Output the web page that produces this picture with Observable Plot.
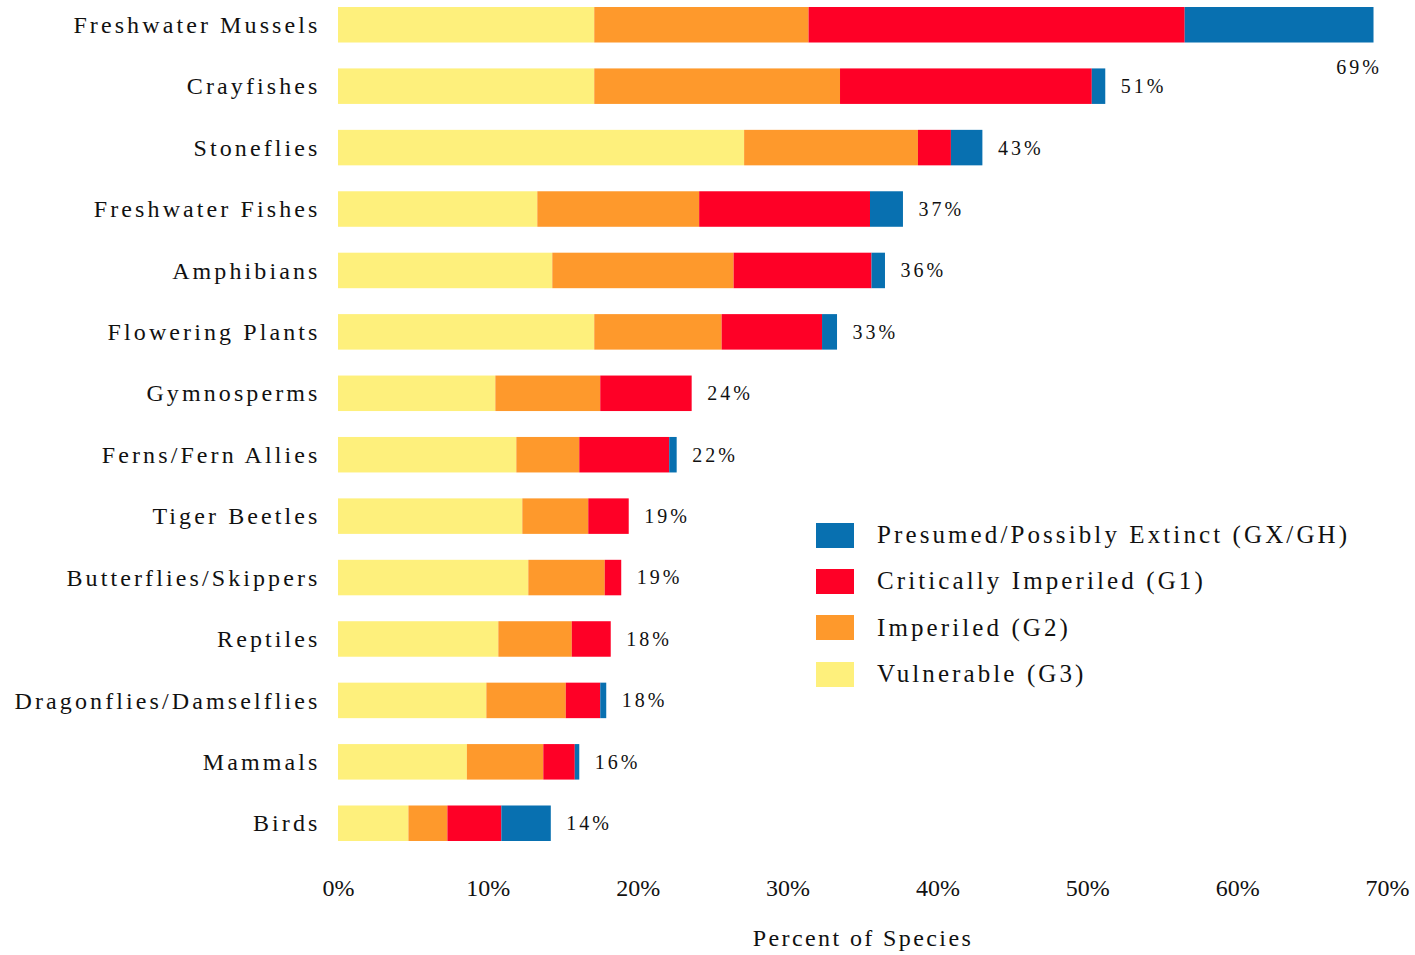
<!DOCTYPE html>
<html>
<head>
<meta charset="utf-8">
<script src="https://cdn.jsdelivr.net/npm/d3@7"></script>
<script src="https://cdn.jsdelivr.net/npm/@observablehq/plot@0.6"></script>
<style>
  html, body { margin: 0; padding: 0; background: #fff; }
  #wrap { position: relative; width: 1415px; height: 955px; font-family: "Liberation Serif", serif; color: #111; }
  g[aria-label="y-axis tick label"] text { letter-spacing: 3.1px; }
  g[aria-label="x-axis label"] text { letter-spacing: 2.4px; }
  g[aria-label="text"] text { letter-spacing: 3px; }
  #legend { position: absolute; left: 816px; top: 512px; font-size: 25px; letter-spacing: 3.1px; }
  #legend .row { display: flex; align-items: center; height: 46.3px; }
  #legend .sw { width: 38px; height: 25px; margin-right: 23px; flex: none; }
</style>
</head>
<body>
<div id="wrap"></div>
<script>
const groups = ["Freshwater Mussels","Crayfishes","Stoneflies","Freshwater Fishes","Amphibians","Flowering Plants","Gymnosperms","Ferns/Fern Allies","Tiger Beetles","Butterflies/Skippers","Reptiles","Dragonflies/Damselflies","Mammals","Birds"];
const statuses = ["Vulnerable (G3)","Imperiled (G2)","Critically Imperiled (G1)","Presumed/Possibly Extinct (GX/GH)"];
const colors = ["#FEF07C","#FE992C","#FE0026","#0870B0"];
const vulnerable = [17.1,17.1,27.1,13.3,14.3,17.1,10.5,11.9,12.3,12.7,10.7,9.9,8.6,4.7];
const imperiled  = [14.3,16.4,11.6,10.8,12.1,8.5,7.0,4.2,4.4,5.1,4.9,5.3,5.1,2.6];
const critical   = [25.1,16.8,2.2,11.4,9.2,6.7,6.1,6.0,2.7,1.1,2.6,2.3,2.1,3.6];
const extinct    = [12.6,0.9,2.1,2.2,0.9,1.0,0,0.5,0,0,0,0.4,0.3,3.3];
const totalLabels = [69,51,43,37,36,33,24,22,19,19,18,18,16,14];
const xTicks = [0,10,20,30,40,50,60,70];

const series = [vulnerable, imperiled, critical, extinct];
const data = [];
groups.forEach((g, i) => statuses.forEach((s, k) => data.push({group: g, status: s, value: series[k][i]})));
const totals = groups.map((g, i) => ({group: g, total: series.reduce((a, s) => a + s[i], 0), label: totalLabels[i] + "%"}));
const right = totals.filter(d => d.total < 60);
const below = totals.filter(d => d.total >= 60);

const chart = Plot.plot({
  width: 1415,
  height: 955,
  marginLeft: 338,
  marginRight: 28,
  marginTop: 0,
  marginBottom: 107,
  style: {fontFamily: "'Liberation Serif', serif", fontSize: "24px", color: "#111", background: "#fff"},
  x: {domain: [0, 70], ticks: xTicks, label: "Percent of Species", labelArrow: "none"},
  y: {domain: groups, paddingInner: 0.422, paddingOuter: 0.114, round: false},
  color: {domain: statuses, range: colors},
  marks: [
    Plot.barX(data, {x: "value", y: "group", fill: "status", order: statuses, inset: 0}),
    Plot.text(right, {x: "total", y: "group", text: "label", textAnchor: "start", dx: 15, fontSize: 20, fill: "#111"}),
    Plot.text(below, {x: "total", y: "group", text: "label", textAnchor: "end", dx: 8, dy: 42, fontSize: 20, fill: "#111"}),
    Plot.axisY({tickSize: 0, tickPadding: 18, label: null, fontSize: 24}),
    Plot.axisX({ticks: xTicks, tickSize: 0, tickPadding: 30, tickFormat: d => d + "%", fontSize: 24,
      label: "Percent of Species", labelArrow: "none", labelAnchor: "center", labelOffset: 97})
  ]
});
const wrap = document.getElementById("wrap");
wrap.appendChild(chart);

const legend = document.createElement("div");
legend.id = "legend";
[3, 2, 1, 0].forEach(k => {
  const row = document.createElement("div");
  row.className = "row";
  const sw = document.createElement("div");
  sw.className = "sw";
  sw.style.background = colors[k];
  const t = document.createElement("span");
  t.textContent = statuses[k];
  row.appendChild(sw); row.appendChild(t);
  legend.appendChild(row);
});
wrap.appendChild(legend);
</script>
</body>
</html>
